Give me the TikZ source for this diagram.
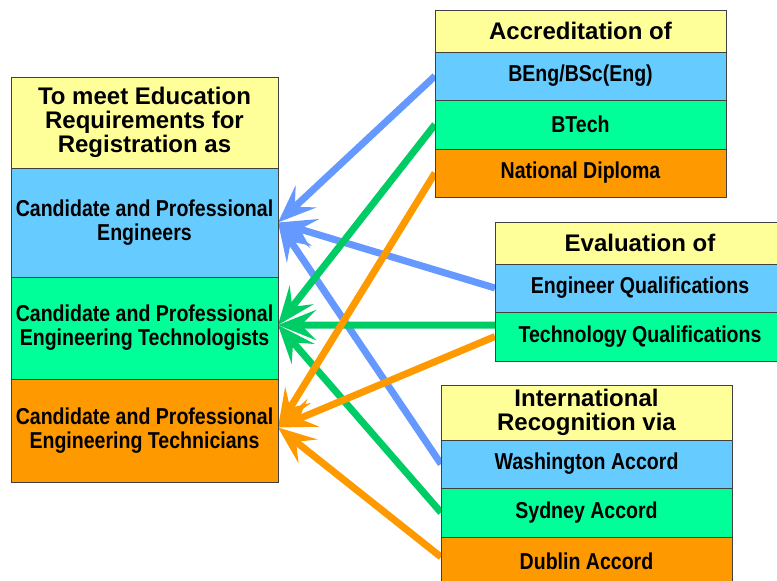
\documentclass[tikz,border=0pt]{standalone}
\usepackage{fontspec}
\setmainfont{Liberation Sans}
\newfontfamily\rowfont{Liberation Sans}[FakeStretch=0.85]
\usetikzlibrary{positioning,arrows.meta,backgrounds,calc}

\definecolor{hdryellow}{HTML}{FFFF99}
\definecolor{rowblue}{HTML}{66CCFF}
\definecolor{rowgreen}{HTML}{00FF99}
\definecolor{roworange}{HTML}{FF9900}
\definecolor{arrblue}{HTML}{6699FF}
\definecolor{arrgreen}{HTML}{00CC66}
\definecolor{arrorange}{HTML}{FF9900}

\begin{document}
\begin{tikzpicture}[x=1pt,y=-1pt,
  cell/.style={draw=black!75,line width=0.8pt,outer sep=0pt,inner sep=1pt,align=center,anchor=north west},
  hdr/.style={cell,fill=hdryellow,font=\bfseries\fontsize{24}{24}\selectfont},
  row/.style={cell,font=\rowfont\bfseries\fontsize{23}{24}\selectfont},
  arr/.style={line width=7pt,-{Stealth[length=38pt,width=30pt,inset=15pt]}}]

\useasboundingbox (0,0) rectangle (777,581);

% left column:
\node[hdr,minimum width=267pt,minimum height=91pt] (req) at (11,77) {To meet Education\\Requirements for\\Registration as};
\node[row,fill=rowblue,minimum width=267pt,minimum height=109pt,below=0pt of req] (eng) {Candidate and Professional\\Engineers};
\node[row,fill=rowgreen,minimum width=267pt,minimum height=102pt,below=0pt of eng] (tech) {Candidate and Professional\\Engineering Technologists};
\node[row,fill=roworange,minimum width=267pt,minimum height=103pt,below=0pt of tech] (techn) {Candidate and Professional\\Engineering Technicians};

% accreditation:
\node[hdr,minimum width=291pt,minimum height=42pt] (accr) at (435,10) {Accreditation of};
\node[row,fill=rowblue,minimum width=291pt,minimum height=48pt,below=0pt of accr] (beng) {BEng/BSc(Eng)};
\node[row,fill=rowgreen,minimum width=291pt,minimum height=49pt,below=0pt of beng] (btech) {BTech};
\node[row,fill=roworange,minimum width=291pt,minimum height=48pt,below=0pt of btech] (diploma) {National Diploma};

% evaluation:
\node[hdr,minimum width=290pt,minimum height=42pt] (eval) at (495,222) {Evaluation of};
\node[row,fill=rowblue,minimum width=290pt,minimum height=48pt,below=0pt of eval] (engq) {Engineer Qualifications};
\node[row,fill=rowgreen,minimum width=290pt,minimum height=49pt,below=0pt of engq] (techq) {Technology Qualifications};

% international recognition:
\node[hdr,minimum width=291pt,minimum height=55pt] (intl) at (441,385) {International\\Recognition via};
\node[row,fill=rowblue,minimum width=291pt,minimum height=48pt,below=0pt of intl] (wash) {Washington Accord};
\node[row,fill=rowgreen,minimum width=291pt,minimum height=49pt,below=0pt of wash] (sydney) {Sydney Accord};
\node[row,fill=roworange,minimum width=291pt,minimum height=48pt,below=0pt of sydney] (dublin) {Dublin Accord};

\begin{scope}[on background layer]
\draw[arr,arrblue] (beng.west) -- (eng.east);
\draw[arr,arrblue] (engq.west) -- (eng.east);
\draw[arr,arrblue] (wash.west) -- (eng.east);

\draw[arr,arrgreen] (btech.west) -- ([yshift=3pt]tech.east);
\draw[arr,arrgreen] ($(techq.north west)!0.27!(techq.south west)$) -- ([yshift=3pt]tech.east);
\draw[arr,arrgreen] (sydney.west) -- ([yshift=3pt]tech.east);

\draw[arr,arrorange] (diploma.west) -- ([yshift=3pt]techn.east);
\draw[arr,arrorange] (techq.west) -- ([yshift=3pt]techn.east);
\draw[arr,arrorange] ([yshift=4pt]dublin.west) -- ([yshift=3pt]techn.east);
\end{scope}

\end{tikzpicture}
\end{document}
